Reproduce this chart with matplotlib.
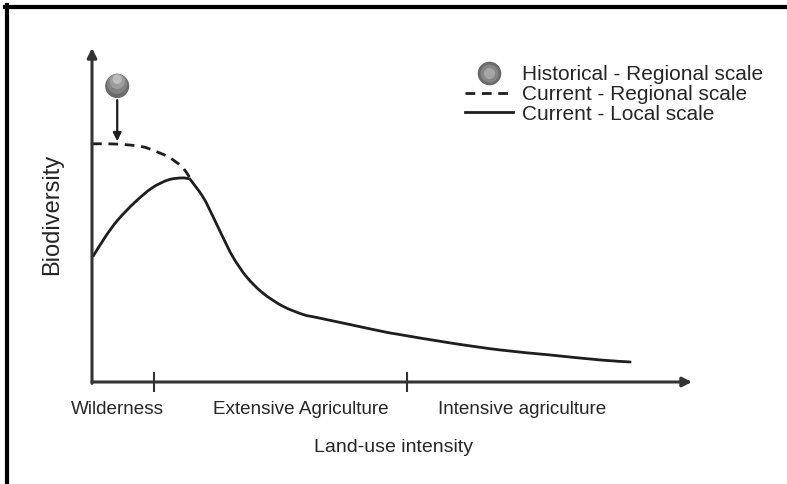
import matplotlib
matplotlib.use('Agg')
import numpy as np
import matplotlib.pyplot as plt
from matplotlib.lines import Line2D
from matplotlib.path import Path
from matplotlib.patches import PathPatch
from matplotlib.legend_handler import HandlerTuple

plt.rcParams['font.family'] = ['Liberation Sans', 'DejaVu Sans']

# Curvas (intensidad de uso del suelo vs biodiversidad, unidades arbitrarias)
local_x = [0.02, 0.22, 0.43, 0.72, 1.00, 1.27, 1.50, 1.63, 1.85, 2.02, 2.18, 2.35,
           2.58, 2.85, 3.18, 3.52, 3.75, 4.30, 4.85, 5.13, 5.97, 6.80, 7.63, 8.47, 8.97]
local_y = [3.77, 4.34, 4.85, 5.39, 5.81, 6.05, 6.11, 6.08, 5.54, 4.94, 4.34, 3.74,
           3.14, 2.66, 2.27, 2.02, 1.93, 1.72, 1.51, 1.42, 1.17, 0.96, 0.81, 0.66, 0.60]
pico = 7  # punto donde la curva local se junta con la regional (esquina)
regional_x = [0.0, 0.30, 0.60, 0.85, 1.00, 1.27, 1.50, 1.64]
regional_y = [7.13, 7.13, 7.10, 7.04, 6.95, 6.74, 6.44, 6.09]
hist_x = 0.42
hist_y = 8.86

limites = [1.03, 5.25]              # separaciones entre categorías
pos_categorias = [0.42, 3.48, 7.17]
categorias = ['Wilderness', 'Extensive Agriculture', 'Intensive agriculture']

COLOR_EJE = '#333333'
COLOR_LINEA = '#1e1e1e'
COLOR_TEXTO = '#262626'
GUIONES = (0, (3.5, 2.4))


# Curva suave (Catmull-Rom -> Bezier) que pasa por los puntos leídos
def tramo_suave(xs, ys):
    p = np.column_stack([xs, ys])
    ext = np.vstack([p[0], p, p[-1]])
    verts, codes = [p[0]], [Path.MOVETO]
    for i in range(len(p) - 1):
        p0, p1, p2, p3 = ext[i], ext[i + 1], ext[i + 2], ext[i + 3]
        verts += [p1 + (p2 - p0) / 6, p2 - (p3 - p1) / 6, p2]
        codes += [Path.CURVE4] * 3
    return verts, codes


def curva(xs, ys, corte=None):
    if corte is None:
        v, c = tramo_suave(xs, ys)
    else:
        v1, c1 = tramo_suave(xs[:corte + 1], ys[:corte + 1])
        v2, c2 = tramo_suave(xs[corte:], ys[corte:])
        v, c = v1 + v2[1:], c1 + c2[1:]
    return Path(np.array(v), c)


fig = plt.figure(figsize=(7.87, 4.84), dpi=100)
ax = fig.add_axes([92 / 787, 102 / 484, 600 / 787, 334 / 484])
ax.set_xlim(0, 10)
ax.set_ylim(0, 10)
for s in ax.spines.values():
    s.set_visible(False)

# ejes con flecha
flecha = dict(arrowstyle='-|>', lw=2.2, color=COLOR_EJE, mutation_scale=14, shrinkA=0, shrinkB=0)
ax.annotate('', xy=(1, 0), xytext=(0, 0), xycoords='axes fraction', arrowprops=flecha)
ax.annotate('', xy=(0, 1), xytext=(0, -0.004), xycoords='axes fraction', arrowprops=flecha)

# curvas
ax.add_patch(PathPatch(curva(local_x, local_y, pico), fill=False, edgecolor=COLOR_LINEA,
                       lw=2.0, joinstyle='miter', capstyle='round'))
ax.add_patch(PathPatch(curva(regional_x, regional_y), fill=False, edgecolor=COLOR_LINEA,
                       lw=2.0, linestyle=GUIONES))

# punto histórico con sombreado
for dy, s, c in [(0.0, 300, '#6a6a6a'), (0.07, 210, '#828282'), (0.14, 120, '#9d9d9d'), (0.2, 45, '#bdbdbd')]:
    ax.scatter([hist_x], [hist_y + dy], s=s, color=c, edgecolors='none', zorder=4)
ax.annotate('', xy=(hist_x, regional_y[0] + 0.08), xytext=(hist_x, hist_y - 0.42),
            arrowprops=dict(arrowstyle='-|>', lw=1.6, color=COLOR_LINEA, mutation_scale=12,
                            shrinkA=0, shrinkB=0))

# ticks: marcas en los límites, etiquetas centradas en cada categoría
ax.set_xticks(limites)
ax.set_xticklabels([])
ax.tick_params(axis='x', which='major', direction='inout', length=14.4, width=1.5, color=COLOR_EJE)
ax.set_xticks(pos_categorias, minor=True)
ax.set_xticklabels(categorias, minor=True, fontsize=13.6, color=COLOR_TEXTO)
ax.tick_params(axis='x', which='minor', length=0, pad=14)
ax.set_yticks([])

ax.set_xlabel('Land-use intensity', fontsize=14, color=COLOR_TEXTO)
ax.xaxis.set_label_coords(0.503, -0.172)
ax.set_ylabel('Biodiversity', fontsize=17, color=COLOR_TEXTO)
ax.yaxis.set_label_coords(-0.048, 0.503)

# leyenda
h_hist = (Line2D([], [], ls='none', marker='o', ms=17, mfc='#6a6a6a', mec='none'),
          Line2D([], [], ls='none', marker='o', ms=13, mfc='#858585', mec='none'),
          Line2D([], [], ls='none', marker='o', ms=8, mfc='#a5a5a5', mec='none'))
h_reg = Line2D([], [], color=COLOR_LINEA, lw=2.0, ls=GUIONES)
h_loc = Line2D([], [], color=COLOR_LINEA, lw=2.0)
leg = ax.legend([h_hist, h_reg, h_loc],
                ['Historical - Regional scale', 'Current - Regional scale', 'Current - Local scale'],
                handler_map={tuple: HandlerTuple(ndivide=1)},
                loc='upper left', bbox_to_anchor=(465 / 787, 1 - 65 / 484),
                bbox_transform=fig.transFigure, frameon=False, fontsize=15,
                handlelength=2.3, handletextpad=0.43, labelspacing=0.04,
                borderpad=0, borderaxespad=0)
for t in leg.get_texts():
    t.set_color(COLOR_TEXTO)

# marco negro superior e izquierdo
fig.add_artist(Line2D([5 / 787, 1], [1 - 6.5 / 484] * 2, transform=fig.transFigure, color='black', lw=3))
fig.add_artist(Line2D([6.5 / 787] * 2, [0, 1 - 5 / 484], transform=fig.transFigure, color='black', lw=3))

fig.savefig('out.png', dpi=100, facecolor='white')
